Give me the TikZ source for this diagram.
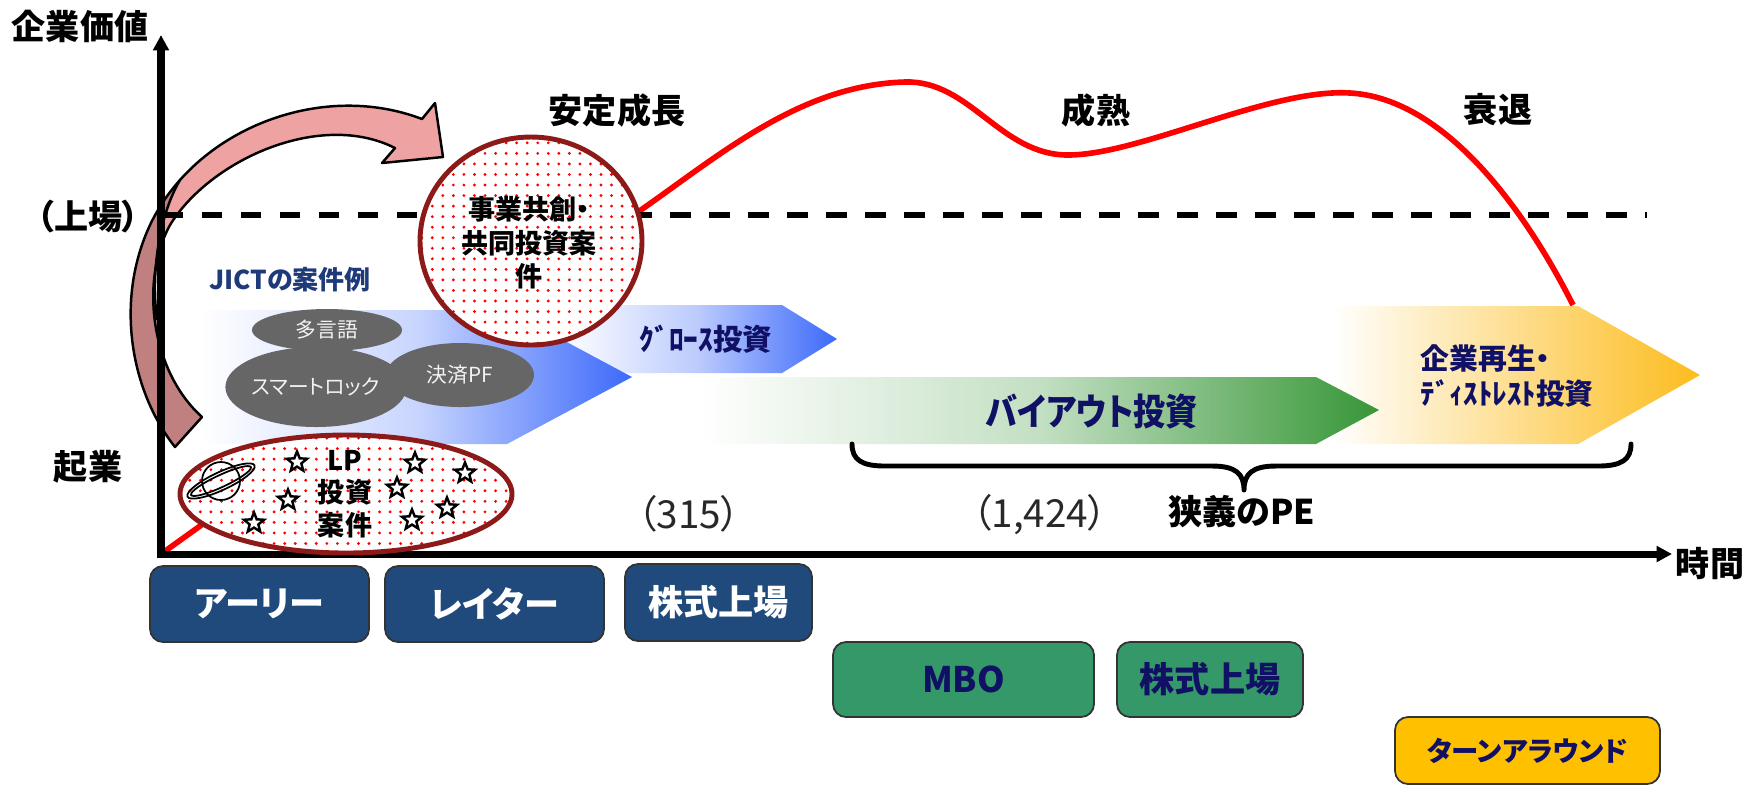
\documentclass[tikz,border=0pt]{standalone}
\usepackage{fontspec}
\setmainfont{Noto Sans CJK JP}[RawFeature=+palt]
\usetikzlibrary{arrows.meta,shapes.geometric,patterns.meta}

\newcommand\fsz[2]{\fontsize{#1}{#2}\selectfont}

\definecolor{navy}{RGB}{16,16,100}
\definecolor{jictblue}{RGB}{31,58,120}
\definecolor{chevblue}{RGB}{60,105,250}
\definecolor{chevgreen}{RGB}{55,150,55}
\definecolor{chevgold}{RGB}{252,188,30}
\definecolor{blobgray}{RGB}{102,102,102}
\definecolor{boxblue}{RGB}{32,74,123}
\definecolor{boxgreen}{RGB}{52,152,104}
\definecolor{boxgold}{RGB}{255,192,0}
\definecolor{caseborder}{RGB}{140,26,24}
\definecolor{arrowlight}{RGB}{238,162,162}
\definecolor{arrowdark}{RGB}{192,128,128}
\definecolor{numgray}{RGB}{40,40,40}

\tikzset{
  heading/.style={font=\bfseries\fsz{9.7}{11}, inner sep=0},
  blob/.style={ellipse, fill=blobgray, inner sep=0, text={rgb,255:red,242;green,242;blue,242}, font=\fsz{5.9}{7}},
  stagebox/.style={draw=black!80, line width=0.5pt, rounded corners=3.7pt, inner sep=0, font=\bfseries\fsz{10}{12}},
  casering/.style={ellipse, draw=caseborder, line width=1.4pt, preaction={fill=white},
    pattern={Dots[distance=3pt,radius=0.45pt]}, pattern color=red, inner sep=0},
  staricon/.style={star, star points=5, star point ratio=2.3, draw=black, fill=white,
    line width=0.7pt, minimum size=6pt, inner sep=0},
  lifecurve/.style={draw=red, line width=1.6pt, line join=round},
  chevtext/.style={text=navy, font=\bfseries\fsz{8.4}{9.5}, inner sep=0},
  numlabel/.style={text=numgray, font=\fsz{11}{13}, inner sep=0},
}

\begin{document}
\begin{tikzpicture}[x=0.1mm, y=-0.1mm]
\fill[white] (0,0) rectangle (1763,786);
\useasboundingbox (0,0) rectangle (1763,786);

% key points of the chart
\coordinate (O) at (161,554);
\coordinate (ytip) at (161,35);
\coordinate (xtip) at (1672,554);
\coordinate (listL) at (163,215);
\coordinate (listR) at (1647,215);
\coordinate (riseEnd) at (638,212);
\coordinate (curveEnd) at (1573,305);

% company value curve
\draw[lifecurve] (O) -- (riseEnd)
  .. controls (720,155) and (800,85) .. (905,82)
  .. controls (970,80) and (1000,155) .. (1068,155)
  .. controls (1140,155) and (1270,88) .. (1350,93)
  .. controls (1440,98) and (1520,200) .. (curveEnd);

% investment stage chevrons
\shade[left color=white, right color=chevblue, middle color=chevblue!35!white]
  (560,305) -- (782,305) -- (837,339) -- (782,373) -- (560,373) -- cycle;
\shade[left color=white, right color=chevblue, middle color=chevblue!28!white]
  (200,310) -- (507,310) -- (632,377) -- (507,444) -- (200,444) -- cycle;
\shade[left color=white, right color=chevgold, middle color=chevgold!50!white]
  (1332,306) -- (1578,306) -- (1700,375) -- (1578,444) -- (1332,444) -- cycle;
\shade[left color=white, right color=chevgreen, middle color=chevgreen!30!white]
  (700,377) -- (1316,377) -- (1379,410) -- (1316,444) -- (700,444) -- cycle;

\node[chevtext] (growth) at (706,339) {ｸﾞﾛｰｽ投資};
\node[chevtext, font=\bfseries\fsz{10.5}{12}] (buyout) at (1092,412) {\scalebox{0.87}[1]{バイアウト投資}};
\node[chevtext, font=\bfseries\fsz{8.2}{10.2}, anchor=west, align=left] (distress) at (1420,376)
  {企業再生・\\ﾃﾞｨｽﾄﾚｽﾄ投資};

% JICT example cases
\node[blob, minimum width=15mm, minimum height=4.2mm] (lang) at (327,330) {多言語};
\node[blob, minimum width=14.8mm, minimum height=6.4mm] (pay) at (460,375) {決済PF};
\node[blob, minimum width=16.4mm, minimum height=8mm] (lock) at (316,387) {スマートロック};
\node[font=\bfseries\fsz{7.4}{9}, text=jictblue, inner sep=0] (jict) at (290,280) {JICTの案件例};

% curved ribbon arrow
\fill[arrowlight]
  (175,447) .. controls (130,390) and (115,300) .. (150,225)
  .. controls (195,130) and (320,80) .. (422,119) -- (435,103) -- (443,157) -- (382,163) -- (395,148)
  .. controls (320,110) and (210,160) .. (170,225)
  .. controls (140,280) and (150,370) .. (202,417) -- cycle;
\fill[arrowdark]
  (175,447) .. controls (130,390) and (115,300) .. (150,225)
  .. controls (158,208) and (168,192) .. (180,180)
  .. controls (162,210) and (150,265) .. (157,320)
  .. controls (162,365) and (180,395) .. (202,417) -- cycle;
\draw[line width=0.7pt] (180,180) .. controls (162,210) and (150,265) .. (157,320);
\draw[line width=0.7pt, line join=round]
  (175,447) .. controls (130,390) and (115,300) .. (150,225)
  .. controls (195,130) and (320,80) .. (422,119) -- (435,103) -- (443,157) -- (382,163) -- (395,148)
  .. controls (320,110) and (210,160) .. (170,225)
  .. controls (140,280) and (150,370) .. (202,417) -- cycle;

% listing level
\draw[line width=1.6pt, dash pattern=on 5.8pt off 5.3pt] (listL) -- (listR);

% axes
\draw[line width=2pt, {Triangle[length=4.4pt,width=4.4pt]}-{Triangle[length=4.4pt,width=4.4pt]}]
  (ytip) -- (O) -- (xtip);

% case ellipses
\node[casering, minimum width=22.2mm, minimum height=20.8mm] (cocreate) at (531,241) {};
\node[font=\bfseries\fsz{7.7}{9.5}, align=center, inner sep=0] (cotext) at (529,243)
  {事業共創・\\共同投資案\\件};

\node[casering, minimum width=33.2mm, minimum height=11.8mm] (lpcase) at (346,494) {};
\node[font=\bfseries\fsz{7.7}{9.2}, align=center, inner sep=0] (lptext) at (345,494) {LP\\投資\\案件};

\node[staricon] (s1) at (297,462) {};
\node[staricon] (s2) at (415,463) {};
\node[staricon] (s3) at (465,473) {};
\node[staricon] (s4) at (397,488) {};
\node[staricon] (s5) at (288,500) {};
\node[staricon] (s6) at (447,508) {};
\node[staricon] (s7) at (254,523) {};
\node[staricon] (s8) at (412,520) {};

% ringed planet
\begin{scope}[shift={(221,481)}]
  \draw[line width=0.5pt] (0,0) circle (19);
  \draw[line width=0.5pt, rotate=25] (0,0) ellipse [x radius=37, y radius=9];
  \draw[line width=0.5pt, rotate=25] (0,0) ellipse [x radius=33, y radius=6];
\end{scope}

% axis and phase labels
\node[heading] (yval) at (80,26) {企業価値};
\node[heading, anchor=east] (listing) at (140,217) {（上場）};
\node[heading] (startup) at (88,467) {起業};
\node[heading] (timeax) at (1710,564) {時間};
\node[heading] (stable) at (617,110) {安定成長};
\node[heading] (mature) at (1096,110) {成熟};
\node[heading] (decline) at (1498,110) {衰退};

\node[numlabel] (n315) at (689,514) {（315）};
\node[numlabel] (n1424) at (1040,515) {（1,424）};

% narrow-sense PE brace
\draw[line width=1.4pt, line cap=round, line join=round]
  (852,444) .. controls (852,460) and (862,466) .. (885,466) -- (1212,466)
  .. controls (1236,466) and (1244,474) .. (1244,490)
  .. controls (1244,474) and (1252,466) .. (1276,466) -- (1598,466)
  .. controls (1621,466) and (1631,460) .. (1631,444);
\node[heading] (narrowpe) at (1242,512) {狭義のPE};

% stage boxes
\node[stagebox, fill=boxblue, text=white, minimum width=21.9mm, minimum height=7.6mm] (early) at (259.5,604) {アーリー};
\node[stagebox, fill=boxblue, text=white, minimum width=21.9mm, minimum height=7.6mm] (later) at (494.5,604) {レイター};
\node[stagebox, fill=boxblue, text=white, minimum width=18.7mm, minimum height=7.7mm] (ipo1) at (718.5,602.5) {株式上場};
\node[stagebox, fill=boxgreen, text=navy, minimum width=26.1mm, minimum height=7.5mm] (mbo) at (963.5,679.5) {MBO};
\node[stagebox, fill=boxgreen, text=navy, minimum width=18.6mm, minimum height=7.5mm] (ipo2) at (1210,679.5) {株式上場};
\node[stagebox, fill=boxgold, text=navy, font=\bfseries\fsz{7.8}{10}, minimum width=26.5mm, minimum height=6.7mm] (turn) at (1527.5,750.5) {ターンアラウンド};
\end{tikzpicture}
\end{document}
